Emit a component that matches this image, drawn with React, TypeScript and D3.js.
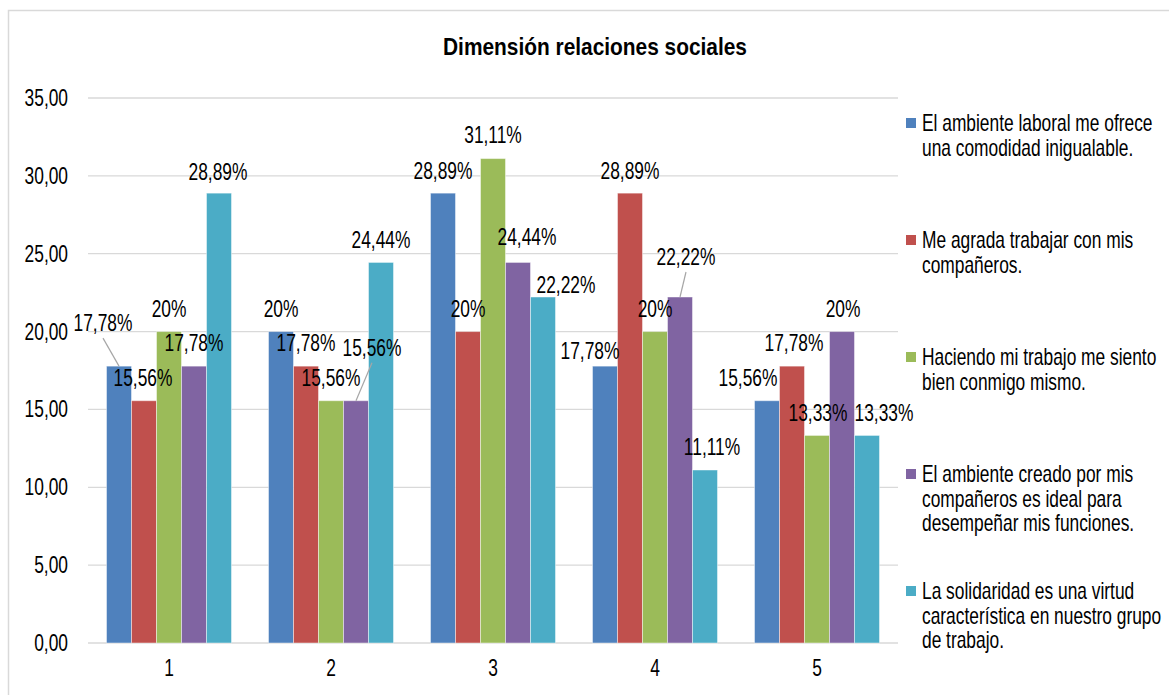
import React from "react";
import * as d3 from "d3";

// Survey answers (percent of respondents) per response level 1..5
const categories = ["1", "2", "3", "4", "5"];

const seriesNames = [
  "El ambiente laboral me ofrece una comodidad inigualable.",
  "Me agrada trabajar con mis compañeros.",
  "Haciendo mi trabajo me siento bien conmigo mismo.",
  "El ambiente creado por mis compañeros es ideal para desempeñar mis funciones.",
  "La solidaridad es una virtud característica en nuestro grupo de trabajo.",
];

const ambienteLaboral = [17.78, 20, 28.89, 17.78, 15.56];
const agradaCompaneros = [15.56, 17.78, 20, 28.89, 17.78];
const trabajoBien = [20, 15.56, 31.11, 20, 13.33];
const ambienteCompaneros = [17.78, 15.56, 24.44, 22.22, 20];
const solidaridad = [28.89, 24.44, 22.22, 11.11, 13.33];

const seriesValues = [ambienteLaboral, agradaCompaneros, trabajoBien, ambienteCompaneros, solidaridad];

const yTicks = [0, 5, 10, 15, 20, 25, 30, 35];

// Legend lines as wrapped in the legend box
const legendLines = [
  ["El ambiente laboral me ofrece", "una comodidad inigualable."],
  ["Me agrada trabajar con mis", "compañeros."],
  ["Haciendo mi trabajo me siento", "bien conmigo mismo."],
  ["El ambiente creado por mis", "compañeros es ideal para", "desempeñar mis funciones."],
  ["La solidaridad es una virtud", "característica en nuestro grupo", "de trabajo."],
];

const colors = ["#4F81BD", "#C0504D", "#9BBB59", "#8064A2", "#4BACC6"];

// Label placement nudges relative to the bar's top centre, per series then category: [dx, dy, leader]
const labelNudges: [number, number, boolean][][] = [
  [[-16, -43, true], [0, -23, false], [0, -22, false], [-15, -15, false], [-19, -23, false]],
  [[-1, -23, false], [0, -23, false], [0, -23, false], [0, -22, false], [2, -23, false]],
  [[0, -23, false], [0, -23, false], [0, -24, false], [0, -23, false], [1, -22, false]],
  [[0, -23, false], [16, -53, true], [9, -25, false], [6, -40, true], [1, -23, false]],
  [[-1, -21, false], [0, -22, false], [23, -12, false], [7, -23, false], [17, -22, false]],
];

const W = 1169;
const H = 695;
const plot = { left: 88, right: 898, top: 98, bottom: 643 };
const FONT = "'Liberation Sans', Arial, sans-serif";
const FS = 23;
const SX = 0.755; // horizontal condensing of the text face

const fmtLabel = (v: number) =>
  Number.isInteger(v) ? `${v}%` : `${v.toFixed(2).replace(".", ",")}%`;
const fmtTick = (v: number) => d3.format(".2f")(v).replace(".", ",");

function T({
  x,
  y,
  anchor = "start",
  size = FS,
  sx = SX,
  weight = "normal",
  children,
}: {
  x: number;
  y: number;
  anchor?: "start" | "middle" | "end";
  size?: number;
  sx?: number;
  weight?: string;
  children: React.ReactNode;
}) {
  return (
    <text
      transform={`translate(${x},${y}) scale(${sx},1)`}
      dy="0.35em"
      textAnchor={anchor}
      fontSize={size}
      fontWeight={weight}
      fill="#000"
    >
      {children}
    </text>
  );
}

export default function App() {
  const x0 = d3.scaleBand<string>().domain(categories).range([plot.left, plot.right]).padding(0);
  const x1 = d3
    .scaleBand<number>()
    .domain(d3.range(seriesNames.length))
    .range([0, x0.bandwidth()])
    .paddingInner(0)
    .paddingOuter(0.74);
  const y = d3.scaleLinear().domain([0, 35]).range([plot.bottom, plot.top]);

  return (
    <svg
      width={W}
      height={H}
      style={{ position: "absolute", left: 0, top: 0, display: "block", background: "#fff" }}
      fontFamily={FONT}
    >
      <rect x={0} y={0} width={W} height={H} fill="#fff" />
      {/* chart area frame */}
      <path d={`M8.5,${H} V10.5 H${W}`} fill="none" stroke="#d9d9d9" strokeWidth={1.5} />

      <T x={595} y={47} anchor="middle" size={24} sx={0.87} weight="bold">
        Dimensión relaciones sociales
      </T>

      {/* gridlines and y axis labels */}
      {yTicks.map((t) => (
        <g key={t}>
          <line x1={plot.left} x2={plot.right} y1={y(t)} y2={y(t)} stroke="#d9d9d9" strokeWidth={1.3} />
          <T x={68} y={y(t)} anchor="end">
            {fmtTick(t)}
          </T>
        </g>
      ))}

      {/* bars */}
      {categories.map((c, ci) => (
        <g key={c} transform={`translate(${x0(c)},0)`}>
          {seriesValues.map((vals, si) => (
            <rect
              key={si}
              x={x1(si)}
              y={y(vals[ci])}
              width={x1.bandwidth()}
              height={y(0) - y(vals[ci])}
              fill={colors[si]}
              stroke="#ffffff"
              strokeOpacity={0.45}
              strokeWidth={1}
            />
          ))}
        </g>
      ))}

      {/* category labels */}
      {categories.map((c) => (
        <T key={c} x={(x0(c) as number) + x0.bandwidth() / 2} y={668} anchor="middle">
          {c}
        </T>
      ))}

      {/* data labels */}
      {seriesValues.map((vals, si) =>
        vals.map((v, ci) => {
          const bx = (x0(categories[ci]) as number) + (x1(si) as number) + x1.bandwidth() / 2;
          const by = y(v);
          const [dx, dy, leader] = labelNudges[si][ci];
          const lx = bx + dx;
          const ly = by + dy;
          return (
            <g key={`${si}-${ci}`}>
              {leader && (
                <line x1={lx} y1={ly + 15} x2={bx} y2={by} stroke="#a6a6a6" strokeWidth={1.2} />
              )}
              <T x={lx} y={ly} anchor="middle">
                {fmtLabel(v)}
              </T>
            </g>
          );
        })
      )}

      {/* legend */}
      {legendLines.map((lines, i) => {
        const top = 123 + i * 117;
        return (
          <g key={i}>
            <rect x={906} y={top - 5} width={10} height={10} fill={colors[i]} />
            {lines.map((ln, li) => (
              <T key={li} x={922} y={top + li * 24.5}>
                {ln}
              </T>
            ))}
          </g>
        );
      })}
    </svg>
  );
}
